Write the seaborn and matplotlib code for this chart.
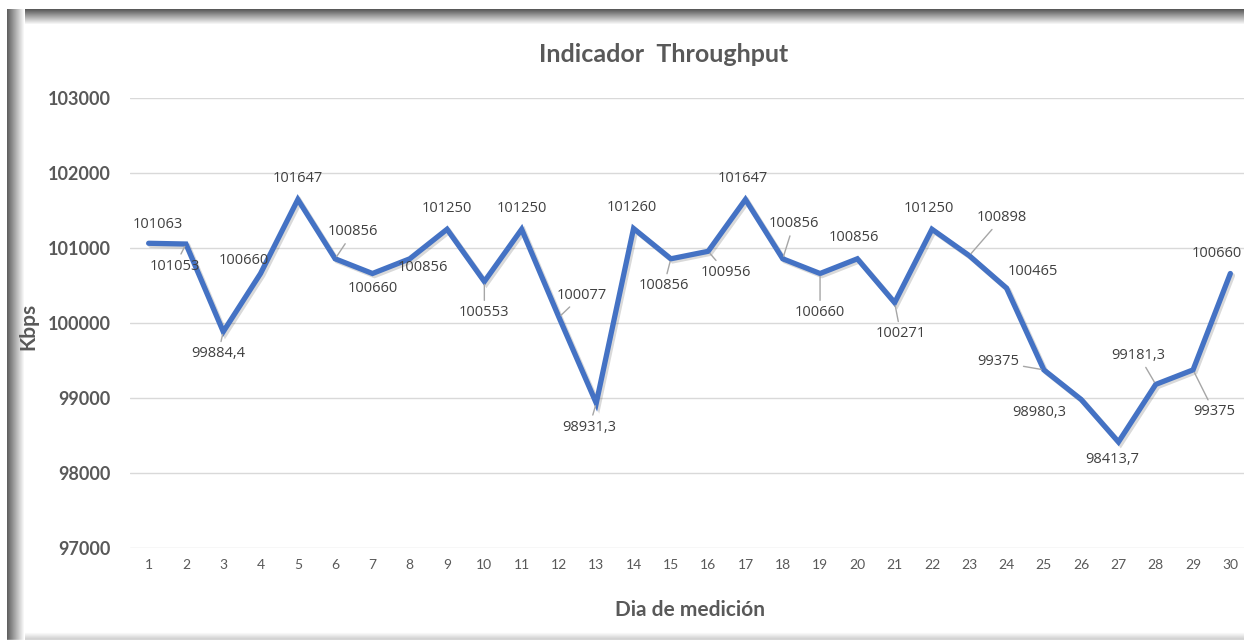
import numpy as np
import pandas as pd
import matplotlib
matplotlib.use("Agg")
import matplotlib.pyplot as plt
import matplotlib.patheffects as pe
import seaborn as sns

# datos del indicador
dias = list(range(1, 31))
throughput = [101063, 101053, 99884.4, 100660, 101647, 100856, 100660, 100856,
              101250, 100553, 101250, 100077, 98931.3, 101260, 100856, 100956,
              101647, 100856, 100660, 100856, 100271, 101250, 100898, 100465,
              99375, 98980.3, 98413.7, 99181.3, 99375, 100660]
etiquetas = [f"{v:g}".replace(".", ",") for v in throughput]
y_ticks = [97000, 98000, 99000, 100000, 101000, 102000, 103000]

# desplazamiento de cada etiqueta (pixeles, x derecha / y abajo)
desp = [(9, -19), (-11, 22), (-5, 22), (-17, -13), (0, -21), (18, -27), (0, 15),
        (13, 9), (0, -21), (0, 31), (0, -21), (23, -22), (-7, 24), (-2, -21),
        (-7, 27), (18, 21), (-3, -21), (11, -35), (0, 39), (-3, -21), (6, 31),
        (-3, -21), (33, -38), (26, -17), (-46, -8), (-42, 13), (-6, 18),
        (-17, -29), (21, 42), (-14, -20)]
con_linea = {2, 3, 6, 10, 12, 13, 15, 16, 18, 19, 21, 23, 25, 28, 29}

df = pd.DataFrame({"dia": dias, "kbps": throughput})

sns.set_style("white")
plt.rcParams["font.family"] = ["Lato", "DejaVu Sans"]

W, H = 1244, 642
fig = plt.figure(figsize=(W / 100, H / 100), dpi=100)

# marco con sombra estilo Excel
bg = fig.add_axes([0, 0, 1, 1], zorder=-1)
bg.set_xlim(0, W)
bg.set_ylim(H, 0)
bg.axis("off")
top = np.linspace(0.35, 1, 16).reshape(-1, 1)
bg.imshow(np.tile(top, (1, 2)), cmap="gray", vmin=0, vmax=1, aspect="auto",
          extent=(7, W, 25, 9), interpolation="bilinear")
left = np.linspace(0.38, 1, 18).reshape(1, -1)
bg.imshow(np.tile(left, (2, 1)), cmap="gray", vmin=0, vmax=1, aspect="auto",
          extent=(7, 25, H, 9), interpolation="bilinear")
bot = np.linspace(1, 0.8, 8).reshape(-1, 1)
bg.imshow(np.tile(bot, (1, 2)), cmap="gray", vmin=0, vmax=1, aspect="auto",
          extent=(25, W, 640, 632), interpolation="bilinear")
bg.add_patch(plt.Rectangle((0, 640), W, 2, color="white"))

ax = fig.add_axes([130 / W, 1 - 548 / H, 1119 / W, 450 / H])
ax.set_facecolor("none")
sns.lineplot(data=df, x="dia", y="kbps", ax=ax, color="#4472C4", linewidth=3.8,
             solid_joinstyle="miter", zorder=3)
ax.lines[0].set_path_effects([pe.SimpleLineShadow(offset=(1.5, -1.5), shadow_color="black", alpha=0.15),
                              pe.Normal()])

ax.set_xlim(0.5, 30.5)
ax.set_ylim(97000, 103000)
ax.set_xticks(dias)
ax.set_yticks(y_ticks)
ax.set_yticklabels([str(t) for t in y_ticks], fontsize=13, fontweight="bold", color="#595959")
ax.tick_params(axis="x", labelsize=10, colors="#595959", length=0, pad=8)
ax.tick_params(axis="y", length=0, pad=14)
ax.grid(axis="y", color="#D9D9D9", linewidth=1)
for s in ax.spines.values():
    s.set_visible(False)
ax.set_xlabel("")
ax.set_ylabel("")

for d, v, t, (dx, dy) in zip(dias, throughput, etiquetas, desp):
    props = dict(arrowstyle="-", color="#A6A6A6", lw=1, shrinkA=1, shrinkB=2) if d in con_linea else None
    ax.annotate(t, (d, v), xytext=(dx, -dy), textcoords="offset pixels",
                ha="center", va="center", fontsize=10.5, color="#404040",
                family=["Open Sans", "DejaVu Sans"], arrowprops=props, zorder=4,
                annotation_clip=False)

fig.text(664 / W, 1 - 55 / H, "Indicador  Throughput", ha="center", va="center",
         fontsize=18, fontweight="bold", color="#595959")
fig.text(690 / W, 1 - 610 / H, "Dia de medición", ha="center", va="center",
         fontsize=15, fontweight="bold", color="#595959")
fig.text(28 / W, 1 - 326 / H, "Kbps", ha="center", va="center", rotation=90,
         fontsize=15, fontweight="bold", color="#595959")

fig.savefig("out.png", dpi=100)
